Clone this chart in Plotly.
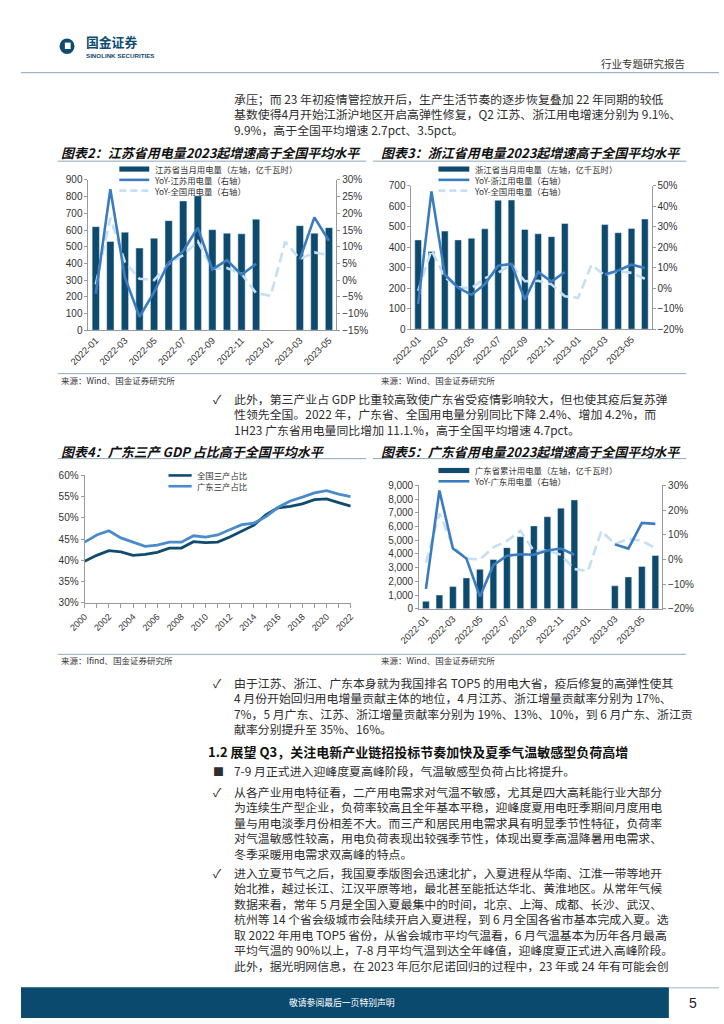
import plotly.graph_objects as go

W, H = 724, 1024
def X(px): return px / W
def Y(py): return 1 - py / H

# ---------------- data ----------------
months17 = ["2022-01", "2022-02", "2022-03", "2022-04", "2022-05", "2022-06", "2022-07",
            "2022-08", "2022-09", "2022-10", "2022-11", "2022-12", "2023-01", "2023-02",
            "2023-03", "2023-04", "2023-05"]
months18 = months17 + ["2023-06"]

# 图表2 江苏
js_power = [620, 531, 587, 492, 551, 656, 774, 805, 602, 581, 577, 665, None, None, 626, 581, 614]
js_yoy = [-4.1, 27.2, 0.8, -11.0, -3.6, 5.2, 8.7, 15.7, 3.2, 6.0, 1.6, 4.9, None, None, 6.2, 18.8, 11.8]
# 全国同比
nat_yoy = [-1.3, 18.6, 5.4, 0.4, 0.0, 4.9, 7.5, 11.6, 3.4, 3.6, 1.9, -3.9, -4.7, 11.5, 6.3, 8.3, 7.5, 4.6]

# 图表3 浙江
zj_power = [436, 380, 479, 436, 444, 490, 630, 631, 487, 466, 452, 516, None, None, 511, 471, 492, 538]
zj_yoy = [-7.7, 47.3, 6.7, 0.3, -3.2, 1.9, 11.0, 11.9, -5.6, 7.9, 3.2, 7.9, None, None, 6.7, 8.7, 11.5, 9.9]

# 图表4 三产占比
years = list(range(2000, 2023))
nat_tertiary = [39.8, 41.2, 42.3, 42.0, 41.2, 41.4, 41.9, 42.9, 42.9, 44.4, 44.2, 44.3, 45.5,
                46.9, 48.3, 50.8, 52.4, 52.7, 53.3, 54.3, 54.5, 53.6, 52.8]
gd_tertiary = [44.3, 46.0, 47.0, 45.3, 44.3, 43.3, 43.6, 44.3, 44.3, 45.8, 45.5, 46.0, 47.2,
               48.4, 48.8, 50.3, 52.5, 54.0, 54.9, 55.9, 56.4, 55.6, 55.0]

# 图表5 广东
gd_cum = [552, 1007, 1630, 2254, 2878, 3597, 4460, 5252, 6043, 6715, 7338, 7938, None, None,
          1679, 2326, 3094, 3885]
gd_yoy = [-11.9, 27.9, 4.4, 0.4, -15.0, -2.3, 1.5, 2.1, 1.9, 3.6, 4.4, 1.9, None, None,
          6.1, 4.4, 14.8, 14.4]

# ---------------- styles ----------------
BAR = "#0d4a6e"
LINE = "#3b7cc0"
NAT = "#c6dff3"
DARK = "#0e4b6f"
GDL = "#4a8bcb"
AX = "#9a9a9a"
RULE = "#8fa8bc"
TXT = "#2e2e2e"
CJK = "Noto Sans CJK SC"
NUM = "Liberation Sans"
BODY = 11.9

fig = go.Figure()

# chart 2
fig.add_trace(go.Bar(x=months17, y=js_power, marker_color=BAR, xaxis="x", yaxis="y"))
fig.add_trace(go.Scatter(x=months17, y=nat_yoy[:17], mode="lines", xaxis="x", yaxis="y2",
                         line=dict(color=NAT, width=2.6, dash="10px,5px")))
fig.add_trace(go.Scatter(x=months17, y=js_yoy, mode="lines", xaxis="x", yaxis="y2",
                         line=dict(color=LINE, width=2.6), connectgaps=False))
# chart 3
fig.add_trace(go.Bar(x=months18, y=zj_power, marker_color=BAR, xaxis="x2", yaxis="y3"))
fig.add_trace(go.Scatter(x=months18, y=nat_yoy, mode="lines", xaxis="x2", yaxis="y4",
                         line=dict(color=NAT, width=2.6, dash="10px,5px")))
fig.add_trace(go.Scatter(x=months18, y=zj_yoy, mode="lines", xaxis="x2", yaxis="y4",
                         line=dict(color=LINE, width=2.6), connectgaps=False))
# chart 4
fig.add_trace(go.Scatter(x=years, y=nat_tertiary, mode="lines", xaxis="x3", yaxis="y5",
                         line=dict(color=DARK, width=2.8)))
fig.add_trace(go.Scatter(x=years, y=gd_tertiary, mode="lines", xaxis="x3", yaxis="y5",
                         line=dict(color=GDL, width=2.8)))
# chart 5
fig.add_trace(go.Bar(x=months18, y=gd_cum, marker_color=BAR, xaxis="x4", yaxis="y6"))
fig.add_trace(go.Scatter(x=months18, y=nat_yoy, mode="lines", xaxis="x4", yaxis="y7",
                         line=dict(color=NAT, width=2.6, dash="10px,5px")))
fig.add_trace(go.Scatter(x=months18, y=gd_yoy, mode="lines", xaxis="x4", yaxis="y7",
                         line=dict(color=LINE, width=2.6), connectgaps=False))

tickf = dict(family=NUM, size=10, color="#333")
base_y = dict(showline=True, linecolor=AX, linewidth=1, ticks="outside", ticklen=3,
              tickcolor=AX, showgrid=False, zeroline=False, tickfont=tickf)
def cat_x(dom, anchor, cats):
    return dict(domain=dom, anchor=anchor, type="category", tickmode="array",
                tickvals=cats[::2], tickangle=-45, tickfont=dict(family=NUM, size=9.5, color="#333"),
                showline=True, linecolor=AX, linewidth=1, ticks="", showgrid=False,
                range=[-0.5, len(cats) - 0.5])

fig.update_layout(
    width=W, height=H, margin=dict(l=0, r=0, t=0, b=0),
    paper_bgcolor="white", plot_bgcolor="rgba(0,0,0,0)", showlegend=False, bargap=0.5,
    xaxis=cat_x([X(70), X(327)], "y", months17),
    yaxis=dict(domain=[Y(328), Y(176)], anchor="x", range=[0, 900], dtick=100, **base_y),
    yaxis2=dict(overlaying="y", side="right", anchor="x", range=[-15, 30], dtick=5,
                ticksuffix="%", **base_y),
    xaxis2=cat_x([X(405), X(654)], "y3", months18),
    yaxis3=dict(domain=[Y(327), Y(182)], anchor="x2", range=[0, 700], dtick=100, **base_y),
    yaxis4=dict(overlaying="y3", side="right", anchor="x2", range=[-20, 50], dtick=10,
                ticksuffix="%", **base_y),
    xaxis3=dict(domain=[X(66), X(342)], anchor="y5", range=[2000, 2022], tickmode="array",
                tickvals=years, ticktext=[str(y) if y % 2 == 0 else "" for y in years],
                tickangle=-45, tickfont=dict(family=NUM, size=9, color="#333"),
                showline=True, linecolor=AX, ticks="outside", ticklen=4, tickcolor=AX,
                showgrid=False, zeroline=False),
    yaxis5=dict(domain=[Y(604), Y(475)], anchor="x3", range=[30, 60], dtick=5,
                ticksuffix="%", **base_y),
    xaxis4=cat_x([X(413), X(665)], "y6", months18),
    yaxis6=dict(domain=[Y(610), Y(485)], anchor="x4", range=[0, 9000], dtick=1000,
                tickformat=",", **base_y),
    yaxis7=dict(overlaying="y6", side="right", anchor="x4", range=[-20, 30], dtick=10,
                ticksuffix="%", **base_y),
)

shapes = []
annos = []

def hline(y, x0, x1, color=RULE, w=1):
    shapes.append(dict(type="line", xref="paper", yref="paper", x0=X(x0), x1=X(x1),
                       y0=Y(y), y1=Y(y), line=dict(color=color, width=w)))

def text(x, y, s, size=BODY, color=TXT, family=CJK, anchor="left"):
    annos.append(dict(xref="paper", yref="paper", x=X(x), y=Y(y), text=s, showarrow=False,
                      xanchor=anchor, yanchor="middle", borderpad=0, align="left",
                      font=dict(family=family, size=size, color=color)))

def para(x, y0, lines, size=BODY):
    pitch = size * 1.3
    yc = y0 + pitch * (len(lines) - 1) / 2
    text(x, yc, "<br>".join(lines), size=size)

LEGF = 8.4
LEGP = LEGF * 1.3
def legend(x0, x1, y0, items):
    labels = []
    for i, (kind, color, dash, label) in enumerate(items):
        y = y0 + LEGP * i
        if kind == "bar":
            shapes.append(dict(type="rect", xref="paper", yref="paper", x0=X(x0), x1=X(x1),
                               y0=Y(y + 2.6), y1=Y(y - 2.6), fillcolor=color, line=dict(width=0)))
        else:
            shapes.append(dict(type="line", xref="paper", yref="paper", x0=X(x0), x1=X(x1),
                               y0=Y(y), y1=Y(y), line=dict(color=color, width=2.6, dash=dash)))
        labels.append(label)
    yc = y0 + LEGP * (len(items) - 1) / 2
    text(x1 + 4, yc, "<br>".join(labels), size=LEGF, color="#333")

# header
shapes.append(dict(type="circle", xref="paper", yref="paper", x0=X(40), x1=X(55.5),
                   y0=Y(48.5), y1=Y(33), fillcolor="#0f4c72", line=dict(width=0)))
shapes.append(dict(type="rect", xref="paper", yref="paper", x0=X(45.5), x1=X(51.5),
                   y0=Y(43.5), y1=Y(37), fillcolor="white", line=dict(width=0)))
text(66, 36.2, "<b>国金证券</b>", size=12.8, color="#0f4c72")
text(66.5, 49.6, "<b>SINOLINK SECURITIES</b>", size=6.2, color="#0f4c72", family=NUM)
text(690, 58, "行业专题研究报告", size=10.5, color="#333", anchor="right")
hline(67.5, 0, 724, color="#9fb3c4", w=1.2)

# paragraph 1
p1 = ["承压；而 23 年初疫情管控放开后，生产生活节奏的逐步恢复叠加 22 年同期的较低",
      "基数使得4月开始江浙沪地区开启高弹性修复，Q2 江苏、浙江用电增速分别为 9.1%、",
      "9.9%，高于全国平均增速 2.7pct、3.5pct。"]
para(220, 94, p1)

# chart titles
text(40, 148, "<b><i>图表2：江苏省用电量2023起增速高于全国平均水平</i></b>", size=13, color="#111")
text(372, 148, "<b><i>图表3：浙江省用电量2023起增速高于全国平均水平</i></b>", size=13, color="#111")
hline(157, 38, 358)
hline(157, 365, 690)

legend(102, 133, 165, [("bar", BAR, None, "江苏省当月用电量（左轴，亿千瓦时）"),
                       ("line", LINE, None, "YoY-江苏用电量（右轴）"),
                       ("line", NAT, "7px,4px", "YoY-全国用电量（右轴）")])
legend(433, 465, 165, [("bar", BAR, None, "浙江省当月用电量（左轴，亿千瓦时）"),
                       ("line", LINE, None, "YoY-浙江用电量（右轴）"),
                       ("line", NAT, "7px,4px", "YoY-全国用电量（右轴）")])

# sources row 1
hline(372, 38, 690)
text(40, 378.5, "来源：Wind、国金证券研究所", size=8.5, color="#333")
text(372, 378.5, "来源：Wind、国金证券研究所", size=8.5, color="#333")

# paragraph 2
p2 = ["此外，第三产业占 GDP 比重较高致使广东省受疫情影响较大，但也使其疫后复苏弹",
      "性领先全国。2022 年，广东省、全国用电量分别同比下降 2.4%、增加 4.2%，而",
      "1H23 广东省用电量同比增加 11.1.%，高于全国平均增速 4.7pct。"]
text(198, 397.5, "✓", size=12)
para(220, 397.5, p2)

# chart titles row 2
text(40, 451, "<b><i>图表4：广东三产 GDP 占比高于全国平均水平</i></b>", size=13, color="#111")
text(372, 451, "<b><i>图表5：广东省用电量2023起增速高于全国平均水平</i></b>", size=13, color="#111")
hline(458, 38, 358)
hline(458, 365, 690)

legend(153, 177, 475, [("line", DARK, None, "全国三产占比"),
                       ("line", GDL, None, "广东三产占比")])
legend(433, 465, 470, [("bar", BAR, None, "广东省累计用电量（左轴，亿千瓦时）"),
                       ("line", LINE, None, "YoY-广东用电量（右轴）")])

# sources row 2
hline(656, 38, 690)
text(40, 662, "来源：Ifind、国金证券研究所", size=8.5, color="#333")
text(372, 662, "来源：Wind、国金证券研究所", size=8.5, color="#333")

# paragraph 3
p3 = ["由于江苏、浙江、广东本身就为我国排名 TOP5 的用电大省，疫后修复的高弹性使其",
      "4 月份开始回归用电增量贡献主体的地位，4 月江苏、浙江增量贡献率分别为 17%、",
      "7%，5 月广东、江苏、浙江增量贡献率分别为 19%、13%、10%，到 6 月广东、浙江贡",
      "献率分别提升至 35%、16%。"]
text(198, 685, "✓", size=12)
para(220, 685, p3)

text(193, 754, "<b>1.2 展望 Q3，关注电新产业链招投标节奏加快及夏季气温敏感型负荷高增</b>",
     size=13, color="#111")

text(198, 774, "■", size=11)
text(220, 774, "7-9 月正式进入迎峰度夏高峰阶段，气温敏感型负荷占比将提升。")

p4 = ["从各产业用电特征看，二产用电需求对气温不敏感，尤其是四大高耗能行业大部分",
      "为连续生产型企业，负荷率较高且全年基本平稳，迎峰度夏用电旺季期间月度用电",
      "量与用电淡季月份相差不大。而三产和居民用电需求具有明显季节性特征，负荷率",
      "对气温敏感性较高，用电负荷表现出较强季节性，体现出夏季高温降暑用电需求、",
      "冬季采暖用电需求双高峰的特点。"]
text(198, 795, "✓", size=12)
para(220, 795, p4)

p5 = ["进入立夏节气之后，我国夏季版图会迅速北扩，入夏进程从华南、江淮一带等地开",
      "始北推，越过长江、江汉平原等地，最北甚至能抵达华北、黄淮地区。从常年气候",
      "数据来看，常年 5 月是全国入夏最集中的时间，北京、上海、成都、长沙、武汉、",
      "杭州等 14 个省会级城市会陆续开启入夏进程，到 6 月全国各省市基本完成入夏。选",
      "取 2022 年用电 TOP5 省份，从省会城市平均气温看，6 月气温基本为历年各月最高",
      "平均气温的 90%以上，7-8 月平均气温到达全年峰值，迎峰度夏正式进入高峰阶段。",
      "此外，据光明网信息，在 2023 年厄尔尼诺回归的过程中，23 年或 24 年有可能会创"]
text(198, 877, "✓", size=12)
para(220, 877, p5)

# footer
shapes.append(dict(type="rect", xref="paper", yref="paper", x0=0, x1=X(672),
                   y0=0, y1=Y(993), fillcolor="#0b4a6f", line=dict(width=0)))
hline(993.5, 672, 724, color="#9fb3c4", w=1)
text(333, 1008, "敬请参阅最后一页特别声明", size=8.8, color="white", anchor="center")
text(697, 1009, "5", size=14, color="#222", family=NUM, anchor="center")

fig.update_layout(shapes=shapes, annotations=annos)
fig.write_html("out.html", config={"displayModeBar": False},
               post_script="document.body.style.margin='0';document.body.style.overflow='hidden';")
